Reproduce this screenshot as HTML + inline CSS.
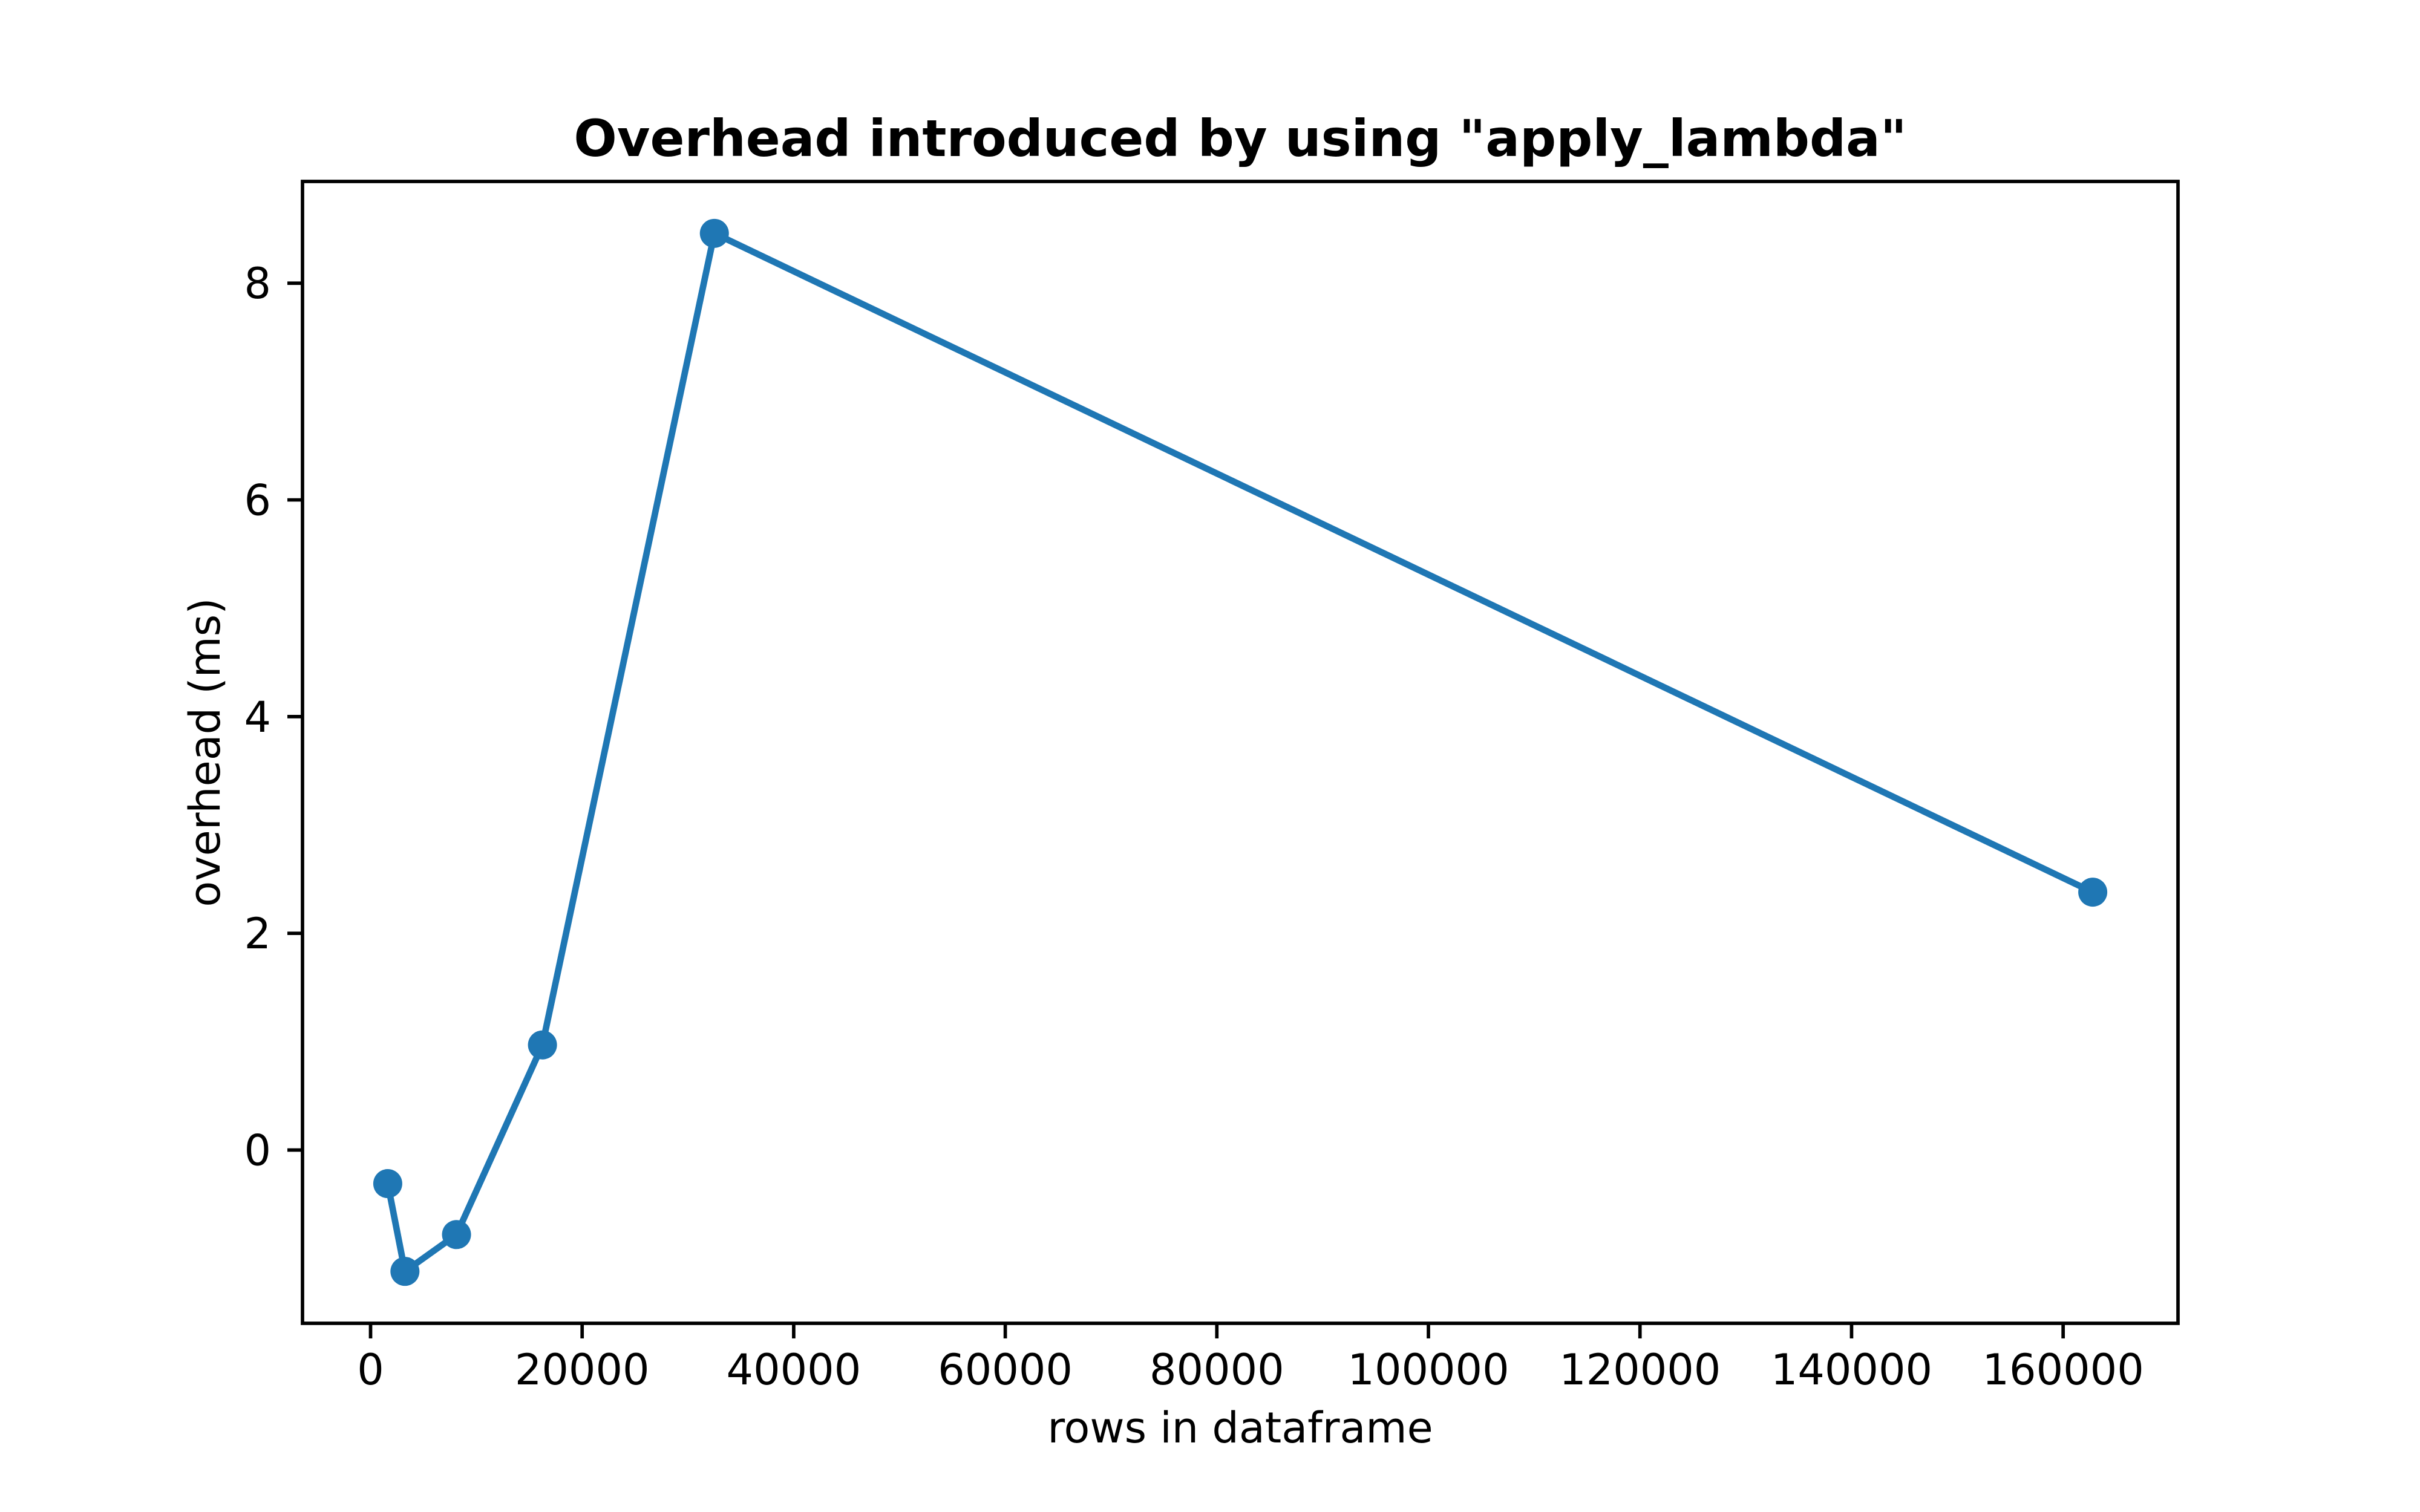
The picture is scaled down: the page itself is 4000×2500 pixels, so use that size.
<!DOCTYPE html>
<html><head><meta charset="utf-8"><style>
html,body{margin:0;padding:0;background:#fff;}
svg{display:block;font-family:"DejaVu Sans","Liberation Sans",sans-serif;}
</style></head><body>
<svg id="chart" width="4000" height="2500" viewBox="0 0 4000 2500" xmlns="http://www.w3.org/2000/svg">
<rect x="0" y="0" width="4000" height="2500" fill="#fff"/>
<text x="2050" y="258" text-anchor="middle" font-size="84" font-weight="bold">Overhead introduced by using "apply_lambda"</text>
<text x="2050" y="2385" text-anchor="middle" font-size="70">rows in dataframe</text>
<text transform="translate(363,1244) rotate(-90)" text-anchor="middle" font-size="70">overhead (ms)</text>
<g id="ticks"></g>
<g id="series"></g>
<rect x="500" y="300" width="3100" height="1888" fill="none" stroke="#000" stroke-width="5.7"/>
</svg>
<script>
const rows = [1625, 3250, 8125, 16250, 32500, 162800];
const overheadMs = [-0.31, -1.12, -0.78, 0.97, 8.46, 2.38];
const xTickValues = [0, 20000, 40000, 60000, 80000, 100000, 120000, 140000, 160000];
const yTickValues = [0, 2, 4, 6, 8];

const NS = "http://www.w3.org/2000/svg";
const L = 500, R = 3600, T = 300, B = 2188;
const xmin0 = Math.min(...rows), xmax0 = Math.max(...rows);
const ymin0 = Math.min(...overheadMs), ymax0 = Math.max(...overheadMs);
const xm = (xmax0 - xmin0) * 0.05, ym = (ymax0 - ymin0) * 0.05;
const xlo = xmin0 - xm, xhi = xmax0 + xm, ylo = ymin0 - ym, yhi = ymax0 + ym;
function sx(v){ return L + (v - xlo) / (xhi - xlo) * (R - L); }
function sy(v){ return B - (v - ylo) / (yhi - ylo) * (B - T); }
function mk(tag, attrs){ const e = document.createElementNS(NS, tag); for (const k in attrs) e.setAttribute(k, attrs[k]); return e; }

const tg = document.getElementById('ticks');
xTickValues.forEach(v => {
  const x = sx(v);
  const t = mk('line', {x1:x, x2:x, y1:B, y2:B+25, stroke:'#000', 'stroke-width':5.7});
  
  
  tg.appendChild(t);
  const lb = mk('text', {x:x, y:2289, 'text-anchor':'middle', 'font-size':70});
  
  
  lb.textContent = String(v);
  tg.appendChild(lb);
});
yTickValues.forEach(v => {
  const y = sy(v);
  const t = mk('line', {x1:L-25, x2:L, y1:y, y2:y, stroke:'#000', 'stroke-width':5.7});
  
  
  tg.appendChild(t);
  const lb = mk('text', {x:448, y:y+25, 'text-anchor':'end', 'font-size':70});
  
  
  lb.textContent = String(v);
  tg.appendChild(lb);
});

const sg = document.getElementById('series');
const pts = rows.map((r, i) => sx(r).toFixed(1) + ',' + sy(overheadMs[i]).toFixed(1)).join(' ');
const line = mk('polyline', {points:pts, fill:'none', stroke:'#1f77b4', 'stroke-width':10.7, 'stroke-linejoin':'round', 'stroke-linecap':'square'});


sg.appendChild(line);
rows.forEach((r, i) => {
  const c = mk('circle', {cx:sx(r), cy:sy(overheadMs[i]), r:24, fill:'#1f77b4'});
  
  
  sg.appendChild(c);
});
</script>
</body></html>
